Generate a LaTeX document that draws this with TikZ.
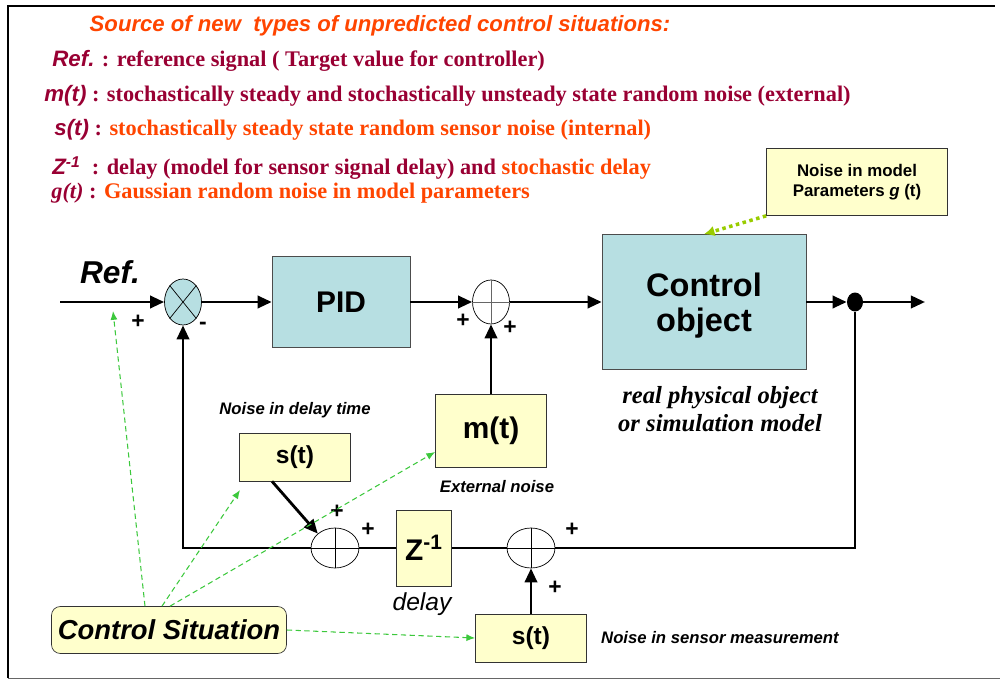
\documentclass[tikz,border=0pt]{standalone}
\usepackage{fontspec}
\setmainfont{Liberation Serif}
\setsansfont{Liberation Sans}
\usetikzlibrary{shapes.geometric,arrows.meta}
\definecolor{mdred}{RGB}{153,0,51}
\definecolor{hotred}{RGB}{255,69,0}
\definecolor{plantblue}{RGB}{183,223,226}
\definecolor{noteyellow}{RGB}{255,255,204}
\definecolor{cuegreen}{RGB}{60,200,60}
\definecolor{limegreen}{RGB}{153,204,0}

\begin{document}
\begin{tikzpicture}[x=0.02cm,y=-0.02cm,
    blk/.style={draw=black!70, fill=plantblue, font=\sffamily\bfseries},
    ybox/.style={draw=black!80, fill=noteyellow, font=\sffamily\bfseries},
    sumnode/.style={draw, ellipse, inner sep=0pt},
    sig/.style={line width=1.6pt},
    tip/.style={-{Triangle[length=8pt,width=7pt]}},
    cue/.style={cuegreen, dash pattern=on 3pt off 2pt, semithick, -{Latex[length=5pt,width=4pt]}},
    pm/.style={font=\sffamily\bfseries\fontsize{13}{13}\selectfont},
    note/.style={font=\sffamily\bfseries\itshape\fontsize{9.5}{11}\selectfont},
    line/.style={anchor=west, inner sep=0pt, text=mdred, font=\bfseries\fontsize{12.7}{14}\selectfont}]

\useasboundingbox (0,0) rectangle (1000,682);
% frame
\draw[line width=1.5pt] (8,678) -- (8,6) -- (995,6);
\draw[black!60] (8,678) -- (1000,678);

% legend
\node[text=hotred, font=\sffamily\bfseries\itshape\fontsize{12.6}{14}\selectfont] (title) at (380,26) {Source of new\ \ types of unpredicted control situations:};
\node[line] (lref) at (52,61) {{\sffamily\itshape Ref.} : reference signal ( Target value for controller)};
\node[line] (lm) at (44,96) {{\sffamily\itshape m(t)} : stochastically steady and stochastically unsteady state random noise (external)};
\node[line] (ls) at (54,130) {{\sffamily\itshape s(t)} : \textcolor{hotred}{stochastically steady state random sensor noise (internal)}};
\node[line] (lz) at (52,168) {{\sffamily\itshape Z\textsuperscript{-1}}\ \ : delay (model for sensor signal delay) and \textcolor{hotred}{stochastic delay}};
\node[line] (lg) at (51,193) {{\itshape g(t)} : \textcolor{hotred}{Gaussian random noise in model parameters}};

% forward path
\coordinate (in) at (60,302);
\node[font=\sffamily\bfseries\itshape\fontsize{18}{20}\selectfont] (ref) at (110,272) {Ref.};
\node[sumnode, fill=plantblue, minimum width=0.74cm, minimum height=0.92cm] (s1) at (183,302) {};
\draw (s1.north west) -- (s1.south east) (s1.north east) -- (s1.south west);
\node[blk, minimum width=2.76cm, minimum height=1.82cm, font=\sffamily\bfseries\fontsize{17}{20}\selectfont] (pid) at (341,302) {PID};
\node[sumnode, fill=white, minimum width=0.74cm, minimum height=0.88cm] (s2) at (491,302) {};
\draw[black!60] (s2.north) -- (s2.south) (s2.west) -- (s2.east);
\node[blk, minimum width=4.08cm, minimum height=2.7cm] (plant) at (704,302) {};
\node[align=center, font=\sffamily\bfseries\fontsize{18.5}{20}\selectfont] (plantlbl) at (704,306) {Control\\object};
\node[ellipse, fill=black, inner sep=0pt, minimum width=0.32cm, minimum height=0.38cm] (dot) at (855,302) {};
\coordinate (out) at (925,302);

% noise blocks
\node[ybox, minimum width=2.22cm, minimum height=1.46cm, font=\sffamily\bfseries\fontsize{17}{20}\selectfont] (mt) at (491,431) {m(t)};
\node[ybox, minimum width=2.22cm, minimum height=0.96cm, font=\sffamily\bfseries\fontsize{14}{16}\selectfont] (dly) at (295,457) {s(t)};
\node[ybox, minimum width=2.22cm, minimum height=0.96cm, font=\sffamily\bfseries\fontsize{14}{16}\selectfont] (sens) at (531,638) {s(t)};
\node[ybox, minimum width=3.62cm, minimum height=1.34cm, align=center, font=\sffamily\bfseries\fontsize{9.6}{11}\selectfont] (gbox) at (857,182) {Noise in model\\Parameters \textit{g} (t)};
\node[ybox, rounded corners=5pt, minimum width=4.7cm, minimum height=0.94cm, font=\sffamily\bfseries\itshape\fontsize{15.6}{17}\selectfont] (cs) at (169,630) {Control Situation};

% feedback path
\node[sumnode, fill=white, minimum width=0.96cm, minimum height=0.8cm] (s4) at (335,548) {};
\draw (s4.north) -- (s4.south) (s4.west) -- (s4.east);
\node[ybox, minimum width=1.1cm, minimum height=1.52cm, font=\sffamily\bfseries\fontsize{17}{20}\selectfont] (zdel) at (424,548) {Z\textsuperscript{-1}};
\node[sumnode, fill=white, minimum width=0.96cm, minimum height=0.8cm] (s3) at (531,548) {};
\draw (s3.north) -- (s3.south) (s3.west) -- (s3.east);

% signs
\node[pm] (p1) at (138,322) {+};
\node[pm] (m1) at (203,326) {-};
\node[pm] (p2) at (463,321) {+};
\node[pm] (p3) at (510,328) {+};
\node[pm] (p4) at (337,512) {+};
\node[pm] (p5) at (368,530) {+};
\node[pm] (p6) at (572,530) {+};
\node[pm] (p7) at (555,588) {+};

% labels
\node[note] (ldly) at (295,410) {Noise in delay time};
\node[note] (lext) at (497,487) {External noise};
\node[note, anchor=west] (lsens) at (595,638) {Noise in sensor measurement};
\node[font=\sffamily\itshape\fontsize{14}{16}\selectfont] (ldelay) at (422,604) {delay};
\node[align=center, font=\bfseries\itshape\fontsize{14}{15.5}\selectfont] (lreal) at (720,409) {real physical object\\or simulation model};

% signal lines
\draw[sig, tip] (in) -- (s1.west);
\draw[sig, tip] (s1.east) -- (pid.west);
\draw[sig, tip] (pid.east) -- (s2.west);
\draw[sig, tip] (s2.east) -- (plant.west);
\draw[sig, tip] (plant.east) -- (dot);
\draw[sig, tip] (dot) -- (out);
\draw[sig, tip] (mt.north) -- (s2.south);
\draw[sig, tip] (sens.north) -- (s3.south);
\draw[sig] (dot) |- (s3.east);
\draw[sig] (s3.west) -- (zdel.east);
\draw[sig] (zdel.west) -- (s4.east);
\draw[sig, tip] (s4.west) -| (s1.south);
\draw[sig, tip] ([xshift=-0.46cm]dly.south) -- (s4.north west);

% control situation cues
\coordinate (refcue) at (113,311);
\coordinate (dlycue) at (240,490);
\draw[cue] ([xshift=-0.48cm]cs.north) -- (refcue);
\draw[cue] ([xshift=-0.14cm]cs.north) -- (dlycue);
\draw[cue] ([xshift=0.02cm]cs.north) -- ([yshift=-0.42cm]mt.west);
\draw[cue] (cs.east) -- (sens.west);
\draw[limegreen, dotted, line width=2pt, -{Latex[length=6pt,width=6pt]}] (gbox.south west) -- (plant.north);
\end{tikzpicture}
\end{document}
